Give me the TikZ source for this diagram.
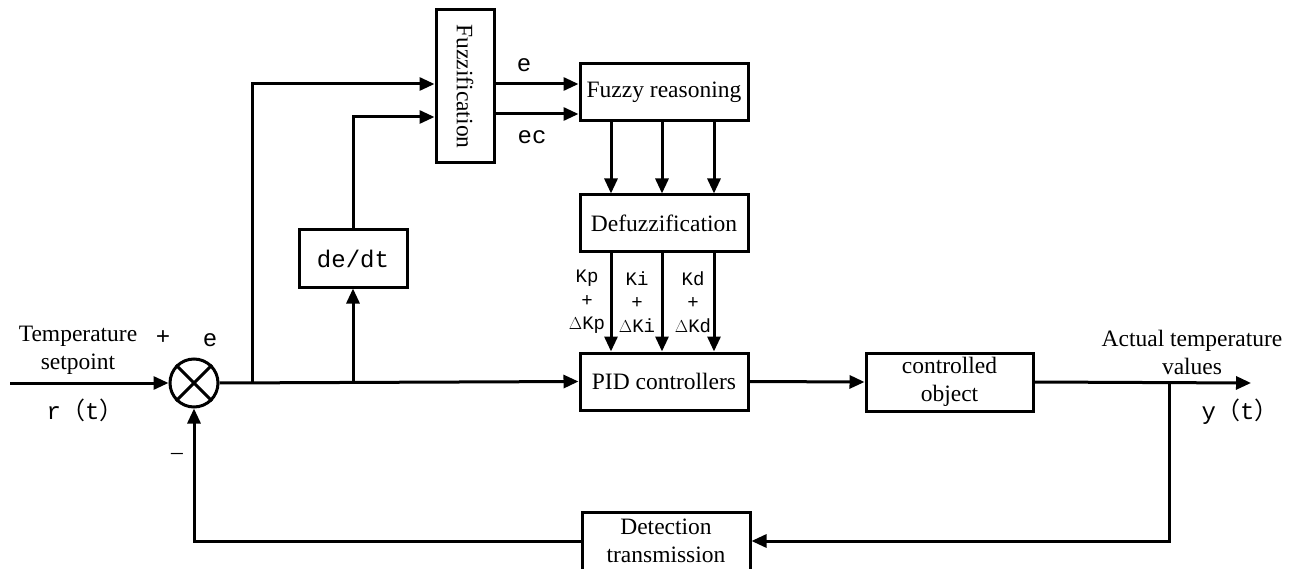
\documentclass[tikz,border=0pt]{standalone}
\usepackage{fontspec}
\setmainfont{Liberation Serif}
\newfontfamily\monof{Liberation Mono}
\newfontfamily\cjk{Noto Sans CJK SC}
\usetikzlibrary{arrows.meta}
\begin{document}
\begin{tikzpicture}[x=1pt,y=-1pt,
  line width=3pt,
  box/.style={draw, rectangle, inner sep=0pt, font=\fontsize{23.5}{28}\selectfont, align=center},
  arr/.style={-{Triangle[length=15pt,width=13pt]}},
  lbl/.style={inner sep=0pt, font=\fontsize{23.5}{28}\selectfont, align=center},
  mlbl/.style={inner sep=0pt, font=\fontsize{24}{28}\selectfont\monof},
  klbl/.style={inner sep=0pt, font=\fontsize{19}{23.5}\selectfont\monof, align=center}]
\useasboundingbox (0,0) rectangle (1300,569);

% blocks
\node[box, minimum width=58pt, minimum height=153pt] (fuzz) at (465,86.5) {};
\node[lbl, rotate=-90] (fuzzt) at (fuzz.center) {Fuzzification};
\node[box, minimum width=168pt, minimum height=57pt] (fr) at (664,92.5) {Fuzzy reasoning};
\node[box, minimum width=168pt, minimum height=57pt] (defz) at (664,223.5) {Defuzzification};
\node[box, minimum width=168pt, minimum height=57pt] (pid) at (664,381.5) {PID controllers};
\node[box, minimum width=167pt, minimum height=58pt] (obj) at (949.5,382) {controlled\\object};
\node[box, minimum width=168pt, minimum height=58pt] (det) at (666,541) {Detection\\transmission};
\node[box, minimum width=108pt, minimum height=57pt, font=\fontsize{24}{28}\selectfont\monof] (dedt) at (353,258.5) {de/dt};
\node[draw, circle, minimum size=48pt, inner sep=0pt] (sum) at (194,383) {};
\draw (sum.45) -- (sum.225);
\draw (sum.135) -- (sum.315);

% coordinates
\coordinate (in) at (10,383);
\coordinate (b1) at (252,383);
\coordinate (b2) at (dedt.south |- sum.east);
\coordinate (b3) at (1169,383);
\coordinate (out) at (1251,383);
\coordinate (f1) at ([yshift=2.5pt]fuzz.west);
\coordinate (f2) at ([yshift=-30.5pt]fuzz.west);
\coordinate (o1) at ([yshift=2.5pt]fuzz.east);
\coordinate (o2) at ([yshift=-27.5pt]fuzz.east);

% connectors
\draw[arr] (in) -- (sum.west);
\draw[arr] (sum.east) -- (pid.west);
\draw[arr] (b1) |- (f1);
\draw[arr] (b2) -- (dedt.south);
\draw[arr] (dedt.north) |- (f2);
\draw[arr] (o1) -- (o1 -| fr.west);
\draw[arr] (o2) -- (o2 -| fr.west);
\foreach \dx in {-53,-2,50}{
  \draw[arr] ([xshift=\dx pt]fr.south) -- ([xshift=\dx pt]defz.north);
  \draw[arr] ([xshift=\dx pt]defz.south) -- ([xshift=\dx pt]pid.north);
}
\draw[arr] (pid.east) -- (obj.west);
\draw[arr] (obj.east) -- (out);
\draw[arr] (b3) |- (det.east);
\draw[arr] (det.west) -| (sum.south);

% labels
\node[lbl] (tsp) at (78,350) {Temperature\\setpoint};
\node[mlbl] (rt) at (85,410) {r{\cjk （}t{\cjk ）}};
\node[mlbl] (plus) at (163,338) {+};
\node[mlbl] (esum) at (210,340) {e};
\node[lbl] (minus) at (177,456) {\textendash};
\node[mlbl] (le) at (524,65) {e};
\node[mlbl] (lec) at (532,137) {ec};
\node[klbl] (kp) at (587,302) {Kp\\+\\$\Delta$Kp};
\node[klbl] (ki) at (637,302) {Ki\\+\\$\Delta$Ki};
\node[klbl] (kd) at (693,302) {Kd\\+\\$\Delta$Kd};
\node[lbl] (act) at (1192,352) {Actual temperature\\values};
\node[mlbl] (yt) at (1240,412) {y{\cjk （}t{\cjk ）}};
\end{tikzpicture}
\end{document}
